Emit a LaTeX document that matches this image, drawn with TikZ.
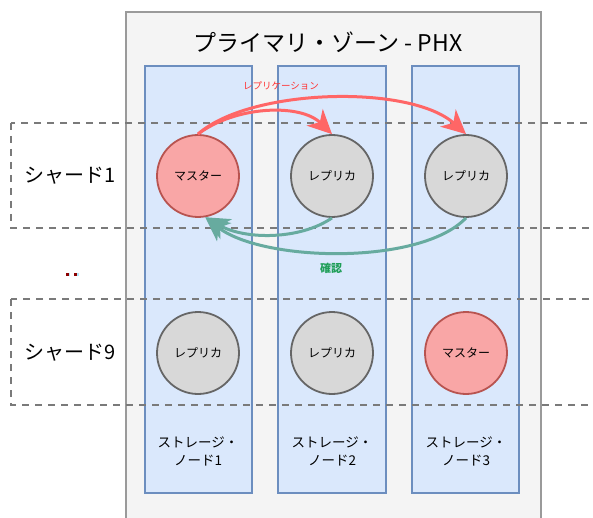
\documentclass[tikz,border=0pt]{standalone}
\usepackage{fontspec}
\setmainfont{Noto Sans CJK JP}
\usetikzlibrary{arrows.meta}
\definecolor{zonefill}{HTML}{F4F4F4}
\definecolor{zoneline}{HTML}{9A9A9A}
\definecolor{colfill}{HTML}{DAE8FC}
\definecolor{colline}{HTML}{6C8EBF}
\definecolor{shardline}{HTML}{7A7A7A}
\definecolor{replfill}{HTML}{D8D8D8}
\definecolor{replline}{HTML}{666666}
\definecolor{mastfill}{HTML}{F9A6A6}
\definecolor{mastline}{HTML}{B85450}
\definecolor{replarrow}{HTML}{FF6666}
\definecolor{replsign}{HTML}{FF3333}
\definecolor{ackarrow}{HTML}{67AB9F}
\definecolor{acksign}{HTML}{1E9E57}
\tikzset{
  zonebox/.style={draw=zoneline, line width=2.8pt, fill=zonefill},
  colbox/.style={draw=colline, line width=2.4pt, fill=colfill},
  shardbox/.style={draw=shardline, line width=2.2pt, dash pattern=on 7pt off 6pt},
  replnode/.style={circle, minimum size=82pt, inner sep=0pt, fill=replfill, draw=replline, line width=1.8pt, font=\fontsize{12}{14}\selectfont},
  mastnode/.style={replnode, fill=mastfill, draw=mastline},
  shardlabel/.style={font=\fontsize{20}{24}\selectfont},
  colabel/.style={align=center, font=\fontsize{13.5}{18}\selectfont},
  flowtip/.style={-{Stealth[length=24pt, width=23pt, inset=7pt]}},
  repflow/.style={draw=replarrow, line width=3pt, flowtip},
  ackflow/.style={draw=ackarrow, line width=3pt, flowtip},
}
\begin{document}
\begin{tikzpicture}[x=1pt, y=-1pt]
\useasboundingbox (0,0) rectangle (593,518);
\begin{scope}
\clip (0,0) rectangle (593,518);
% primary zone
\draw[zonebox] (126,12) rectangle (541,530);
\node[font=\fontsize{23}{27}\selectfont] (title) at (328,42) {プライマリ・ゾーン - PHX};
% storage node columns
\draw[colbox] (145,66) rectangle (252,493);
\draw[colbox] (278,66) rectangle (386,493);
\draw[colbox] (412,66) rectangle (519,493);
\node[colabel] (sn1) at (198,451) {ストレージ・\\ノード1};
\node[colabel] (sn2) at (332,451) {ストレージ・\\ノード2};
\node[colabel] (sn3) at (466,451) {ストレージ・\\ノード3};
% shard bands
\draw[shardbox] (11,123) rectangle (610,228);
\draw[shardbox] (11,299) rectangle (610,405);
\node[shardlabel] (s1) at (70,176) {シャード1};
\node[shardlabel] (s9) at (70,353) {シャード9};
% ellipsis between shards
\fill[red!55!black] (65.5,272.5) rectangle +(3,3);
\fill[cyan!30] (68.5,272.5) rectangle +(1.5,3);
\fill[red!55!black] (74,272.5) rectangle +(3,3);
\fill[cyan!30] (77,272.5) rectangle +(1.5,3);
% replicas
\node[mastnode] (m1) at (198,176) {マスター};
\node[replnode] (r12) at (332,176) {レプリカ};
\node[replnode] (r13) at (466,176) {レプリカ};
\node[replnode] (r21) at (198,353) {レプリカ};
\node[replnode] (r22) at (332,353) {レプリカ};
\node[mastnode] (m2) at (466,353) {マスター};
% replication
\draw[repflow] (m1.north) .. controls (235,106) and (300,103) .. (r12.north);
\draw[repflow] (m1.north) .. controls (250,88) and (410,84) .. (r13.north);
\node[text=replsign, font=\fontsize{9.5}{11}\selectfont] (replabel) at (281,86) {レプリケーション};
% acknowledgements
\draw[ackflow] (r12.south) .. controls (300,240) and (245,240) .. (m1.-80);
\draw[ackflow] (r13.south) .. controls (420,266) and (262,262) .. (m1.-80);
\node[text=acksign, font=\fontsize{11}{13}\selectfont\bfseries] (acklabel) at (331,268) {確認};
\end{scope}
\end{tikzpicture}
\end{document}
